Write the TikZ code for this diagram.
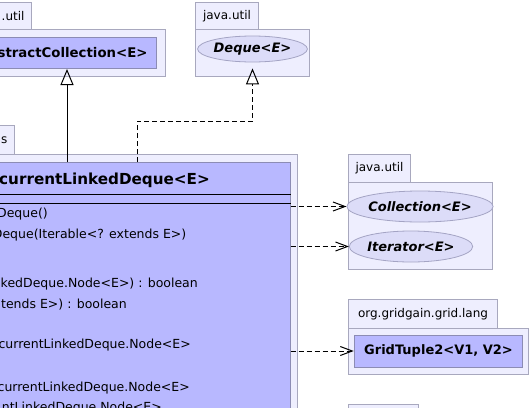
\documentclass[tikz,border=0pt]{standalone}
\usepackage{fontspec}
\setmainfont{DejaVu Sans}[ItalicFont={DejaVu Sans Oblique},BoldItalicFont={DejaVu Sans Bold Oblique}]
\usepackage{xcolor}
\usepackage{tikz}
\usetikzlibrary{shapes.geometric,arrows.meta,positioning}
\definecolor{pkgfill}{HTML}{EEEEFE}
\definecolor{pkgline}{HTML}{A8A8BE}
\definecolor{clsfill}{HTML}{B8B8FF}
\definecolor{clsline}{HTML}{8C8CB4}
\definecolor{iffill}{HTML}{DCDCF8}
\definecolor{ifline}{HTML}{A4A4C4}

\begin{document}
\begin{tikzpicture}[
    x=1pt, y=-1pt,
    pkg/.style={rectangle, draw=pkgline, fill=pkgfill, line width=1pt, inner sep=0pt},
    pkgtab/.style={pkg, font=\fontsize{12}{14}\selectfont, inner xsep=7pt, minimum height=27pt},
    cls/.style={rectangle, draw=clsline, fill=clsfill, line width=1pt, inner xsep=10pt, inner ysep=0pt, font=\fontsize{13}{15}\selectfont\bfseries},
    iface/.style={ellipse, draw=ifline, fill=iffill, line width=0.8pt, inner sep=0pt, font=\fontsize{13}{15}\selectfont\bfseries\itshape},
    member/.style={anchor=base east, inner sep=0pt, font=\fontsize{12.5}{15}\selectfont},
    extends/.style={-{Triangle[open, length=16pt, width=13pt]}, line width=1pt},
    implements/.style={extends, dash pattern=on 5pt off 3pt},
    depend/.style={-{Straight Barb[length=12pt, width=9pt]}, line width=1pt, dash pattern=on 5pt off 3pt}
]
\path[use as bounding box, fill=white] (0,0) rectangle (530,407);
\clip (0,0) rectangle (530,407);

% java.util : AbstractCollection
\node[pkgtab, anchor=north east] (absTab) at (32,2) {.util};
\node[pkg, anchor=north east, minimum width=200pt, minimum height=47pt] (absPkg) at (166,29) {};
\node[cls, anchor=north east, minimum height=31pt, inner xsep=9pt, font=\fontsize{13.3}{15}\selectfont\bfseries] (abs) at (157,37) {bstractCollection<E>};

% java.util : Deque
\node[pkgtab, anchor=north west, minimum width=63pt] (dqTab) at (195,2) {java.util};
\node[pkg, anchor=north west, minimum width=114pt, minimum height=47pt] (dqPkg) at (195,29) {};
\node[iface, minimum width=99pt, minimum height=26pt] (deque) at (252.5,49) {Deque<E>};

% the class itself
\node[pkgtab, anchor=north east, minimum height=29pt] (cdTab) at (15,125) {s};
\node[pkg, anchor=north east, minimum width=420pt, minimum height=300pt] (cdPkg) at (298,154) {};
\node[cls, anchor=north east, minimum width=410pt, minimum height=290pt] (cdq) at (290.7,162) {};
\node[member, font=\fontsize{15.2}{18}\selectfont\bfseries] (cdqName) at (210,184) {currentLinkedDeque<E>};
\draw[line width=1pt] ([yshift=-32pt]cdq.north west) -- ([yshift=-32pt]cdq.north east);
\draw[line width=1pt] ([yshift=-41pt]cdq.north west) -- ([yshift=-41pt]cdq.north east);

\node[member] (m1) at (48,217) {Deque()};
\node[member] (m2) at (186.5,238) {Deque(Iterable<? extends E>)};
\node[member] (m3) at (198,287) {nkedDeque.Node<E>) : boolean};
\node[member] (m4) at (127,308) {tends E>) : boolean};
\node[member] (m5) at (191,348) {currentLinkedDeque.Node<E>};
\node[member] (m6) at (190,391) {currentLinkedDeque.Node<E>};
\node[member] (m7) at (162,411) {ntLinkedDeque.Node<E>};

% java.util : Collection, Iterator
\node[pkgtab, anchor=north west, minimum width=62pt, minimum height=28pt] (juTab) at (348,154) {java.util};
\node[pkg, anchor=north west, minimum width=144pt, minimum height=87pt] (juPkg) at (348,182) {};
\node[iface, minimum width=128pt, minimum height=31pt] (coll) at (420,206.5) {Collection<E>};
\node[iface, minimum width=110pt, minimum height=31pt] (iter) at (411,246.5) {Iterator<E>};

% org.gridgain.grid.lang
\node[pkgtab, anchor=north west, minimum width=149pt, minimum height=29pt] (lgTab) at (348,299) {org.gridgain.grid.lang};
\node[pkg, anchor=north west, minimum width=180pt, minimum height=46pt] (lgPkg) at (348,328) {};
\node[cls, minimum width=165pt, minimum height=32pt] (tuple) at (438.5,351) {GridTuple2<V1, V2>};

% next package (cut off)
\node[pkgtab, anchor=north west, minimum width=70pt, minimum height=28pt] (nxTab) at (348,404) {};

\coordinate (colA) at (67,0);
\coordinate (colB) at (137,0);

\draw[extends] (cdq.north -| colA) -- (abs.south -| colA);
\draw[implements, shorten >=6pt] (cdq.north -| colB) |- ([yshift=-59pt]deque.south) -- (deque.south);
\draw[depend] (cdq.east |- coll.west) -- (coll.west);
\draw[depend] (cdq.east |- iter.west) -- (iter.west);
\draw[depend] (cdq.east |- tuple.west) -- (tuple.west);

\end{tikzpicture}
\end{document}
